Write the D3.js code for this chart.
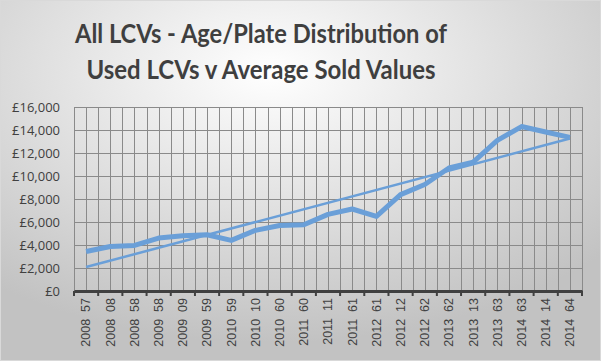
<!DOCTYPE html>
<html>
<head>
<meta charset="utf-8">
<script src="https://cdn.jsdelivr.net/npm/d3@7"></script>
<style>
  body { margin: 0; background: #fff; }
  svg { display: block; }
</style>
</head>
<body>
<div id="chart"></div>
<script>
// plate categories (year + plate) along the x axis
const plates = [
  '2008  57', '2008  08', '2008  58', '2009  58', '2009  09', '2009  59',
  '2010  59', '2010  10', '2010  60', '2011  60', '2011  11', '2011  61',
  '2012  61', '2012  12', '2012  62', '2013  62', '2013  13', '2013  63',
  '2014  63', '2014  14', '2014  64'
];

// average sold value for each plate
const soldValues = [
  3430, 3870, 3960, 4600, 4800, 4890, 4400, 5270, 5700, 5760, 6660,
  7130, 6490, 8380, 9260, 10700, 11200, 13100, 14300, 13830, 13360
];

const yTicks = [0, 2000, 4000, 6000, 8000, 10000, 12000, 14000, 16000];
const titleLines = ['All LCVs - Age/Plate Distribution of', 'Used LCVs v Average Sold Values'];
const titleWidths = [372, 349];

const W = 601, H = 361;
const margin = { top: 107, right: 19, bottom: 70, left: 74 };
const width = W - margin.left - margin.right,
  height = H - margin.top - margin.bottom;

const svg = d3
  .select('#chart')
  .append('svg')
  .attr('width', W)
  .attr('height', H);

// background gradient like the Excel chart area
const defs = svg.append('defs');
const grad = defs
  .append('radialGradient')
  .attr('id', 'bg')
  .attr('cx', '45%')
  .attr('cy', '20%')
  .attr('r', '75%');
grad.append('stop').attr('offset', '0%').attr('stop-color', '#ffffff');
grad.append('stop').attr('offset', '100%').attr('stop-color', '#c2c2c2');

svg
  .append('rect')
  .attr('x', 0.5)
  .attr('y', 0.5)
  .attr('width', W - 1)
  .attr('height', H - 1)
  .attr('fill', 'url(#bg)')
  .attr('stroke', '#d9d9d9');

// title
svg
  .append('g')
  .selectAll('text')
  .data(titleLines)
  .enter()
  .append('text')
  .attr('x', 261)
  .attr('y', (d, i) => 43 + i * 36)
  .attr('text-anchor', 'middle')
  .attr('textLength', (d, i) => titleWidths[i])
  .attr('lengthAdjust', 'spacingAndGlyphs')
  .style('font-family', 'Lato, "Open Sans", sans-serif')
  .style('font-weight', 'bold')
  .style('font-size', '26px')
  .style('fill', '#3f3f3f')
  .text((d) => d);

const g = svg
  .append('g')
  .attr('transform', `translate(${margin.left}, ${margin.top})`);

const x = d3.scaleBand().domain(plates).range([0, width]).padding(0);
const y = d3.scaleLinear().domain([0, 16000]).range([height, 0]);

// vertical gridlines: category boundaries and centres
const vLines = [];
plates.forEach((p) => {
  vLines.push(x(p));
  vLines.push(x(p) + x.bandwidth() / 2);
});
vLines.push(width);

g.append('g')
  .selectAll('line')
  .data(vLines)
  .enter()
  .append('line')
  .attr('x1', (d) => Math.round(d) + 0.5)
  .attr('x2', (d) => Math.round(d) + 0.5)
  .attr('y1', 0)
  .attr('y2', height)
  .attr('stroke', '#8a8a8a')
  .attr('stroke-width', 1);

// horizontal gridlines
g.append('g')
  .selectAll('line')
  .data(yTicks)
  .enter()
  .append('line')
  .attr('x1', 0)
  .attr('x2', width)
  .attr('y1', (d) => Math.round(y(d)) + 0.5)
  .attr('y2', (d) => Math.round(y(d)) + 0.5)
  .attr('stroke', '#8a8a8a')
  .attr('stroke-width', 1);

// y axis labels
const fmt = d3.format(',');
g.append('g')
  .selectAll('text')
  .data(yTicks)
  .enter()
  .append('text')
  .attr('x', -14)
  .attr('y', (d) => y(d))
  .attr('dy', '0.35em')
  .attr('text-anchor', 'end')
  .style('font-family', '"Open Sans", sans-serif')
  .style('font-size', '13px')
  .style('fill', '#404040')
  .text((d) => '£' + fmt(d));

// x axis
const xAxis = g
  .append('g')
  .attr('transform', `translate(0, ${height})`)
  .call(d3.axisBottom(x).tickSize(0).tickFormat(''));
xAxis.select('.domain').attr('stroke', '#404040').attr('stroke-width', 3);

g.append('g')
  .selectAll('line')
  .data(plates.map((p) => x(p)).concat([width]))
  .enter()
  .append('line')
  .attr('x1', (d) => d)
  .attr('x2', (d) => d)
  .attr('y1', height)
  .attr('y2', height + 5)
  .attr('stroke', '#404040')
  .attr('stroke-width', 2);

g.append('g')
  .selectAll('text')
  .data(plates)
  .enter()
  .append('text')
  .attr('transform', (d) => `translate(${x(d) + x.bandwidth() / 2}, ${height + 7}) rotate(-90)`)
  .attr('text-anchor', 'end')
  .attr('dy', '0.35em')
  .style('font-family', '"Liberation Sans", Arial, sans-serif')
  .style('font-size', '12.5px')
  .style('fill', '#404040')
  .style('white-space', 'pre')
  .text((d) => d);

// data line
const cx = (i) => x(plates[i]) + x.bandwidth() / 2;

g.append('path')
  .datum(soldValues)
  .attr('fill', 'none')
  .attr('stroke', '#6a9fd8')
  .attr('stroke-width', 5)
  .attr('stroke-linejoin', 'round')
  .attr(
    'd',
    d3
      .line()
      .x((d, i) => cx(i))
      .y((d) => y(d))
  );

// linear trendline (least squares)
const n = soldValues.length;
const mx = d3.mean(soldValues, (d, i) => i);
const my = d3.mean(soldValues);
const slope =
  d3.sum(soldValues, (d, i) => (i - mx) * (d - my)) /
  d3.sum(soldValues, (d, i) => (i - mx) * (i - mx));
const intercept = my - slope * mx;

g.append('line')
  .attr('x1', cx(0))
  .attr('y1', y(intercept))
  .attr('x2', cx(n - 1))
  .attr('y2', y(intercept + slope * (n - 1)))
  .attr('stroke', '#6a9fd8')
  .attr('stroke-width', 2.5);
</script>
</body>
</html>
